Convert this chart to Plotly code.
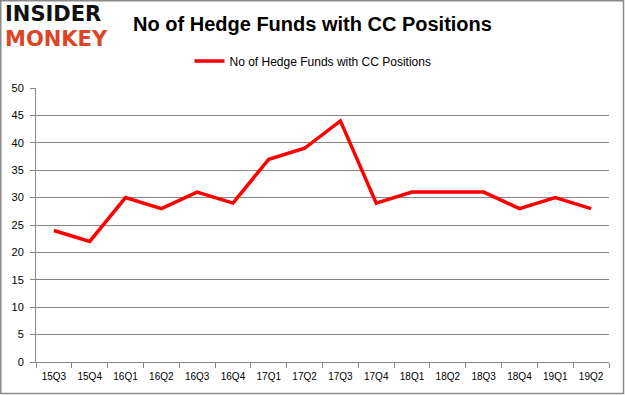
import plotly.graph_objects as go

quarters = ["15Q3", "15Q4", "16Q1", "16Q2", "16Q3", "16Q4", "17Q1", "17Q2",
            "17Q3", "17Q4", "18Q1", "18Q2", "18Q3", "18Q4", "19Q1", "19Q2"]
funds = [24, 22, 30, 28, 31, 29, 37, 39, 44, 29, 31, 31, 31, 28, 30, 28]
series_name = "No of Hedge Funds with CC Positions"
title_text = "No of Hedge Funds with CC Positions"
y_ticks = [0, 5, 10, 15, 20, 25, 30, 35, 40, 45, 50]

W, H = 625, 395
L, R, T, B = 36, 16, 88, 33
pw, ph = W - L - R, H - T - B


def px_x(x):
    return (x - L) / pw


def px_y(y):
    return (H - B - y) / ph


fig = go.Figure()
fig.add_trace(go.Scatter(
    x=quarters, y=funds, mode="lines", name=series_name,
    line=dict(color="#ff0000", width=3.5),
))

grid = "#868686"
fig.update_layout(
    width=W, height=H,
    paper_bgcolor="white", plot_bgcolor="white",
    margin=dict(l=L, r=R, t=T, b=B),
    font=dict(family="Liberation Sans, Arial, sans-serif", size=11, color="#000000"),
    title=dict(text="<b>" + title_text + "</b>", x=0.5, xanchor="center",
               y=1 - 24 / H, yanchor="middle",
               font=dict(family="Liberation Sans, Arial, sans-serif", size=20, color="#000000")),
    showlegend=True,
    legend=dict(orientation="h", x=px_x(313), xanchor="center", y=px_y(61), yanchor="middle",
                font=dict(size=12), bgcolor="rgba(0,0,0,0)"),
    xaxis=dict(type="category", range=[-0.5, 15.5], showgrid=False,
               showline=True, linecolor=grid, linewidth=1,
               ticks="outside", tickson="boundaries", ticklen=5, tickcolor=grid,
               ticklabelstandoff=5, tickfont=dict(size=10)),
    yaxis=dict(range=[0, 50], tickvals=y_ticks, showgrid=True, gridcolor=grid, gridwidth=1,
               showline=True, linecolor=grid, linewidth=1, zeroline=False,
               ticks="outside", ticklen=5, tickcolor=grid,
               ticklabelstandoff=4, tickfont=dict(size=11)),
    shapes=[dict(type="rect", xref="paper", yref="paper", x0=px_x(0.75), x1=px_x(623.5),
                 y0=px_y(393.5), y1=px_y(0.75), line=dict(color="#8a8a8a", width=1.5))],
)

fig.add_annotation(xref="paper", yref="paper", x=px_x(3), y=px_y(0), xanchor="left", yanchor="top",
                   text="<b>INSIDER</b>", showarrow=False,
                   font=dict(family="DejaVu Sans, sans-serif", size=21, color="#111111"))
fig.add_annotation(xref="paper", yref="paper", x=px_x(3), y=px_y(25), xanchor="left", yanchor="top",
                   text="<b>MONKEY</b>", showarrow=False,
                   font=dict(family="DejaVu Sans, sans-serif", size=21, color="#dd4528"))

fig.write_html("out.html", config={"displayModeBar": False},
               post_script="document.body.style.margin='0';document.body.style.padding='0';")
